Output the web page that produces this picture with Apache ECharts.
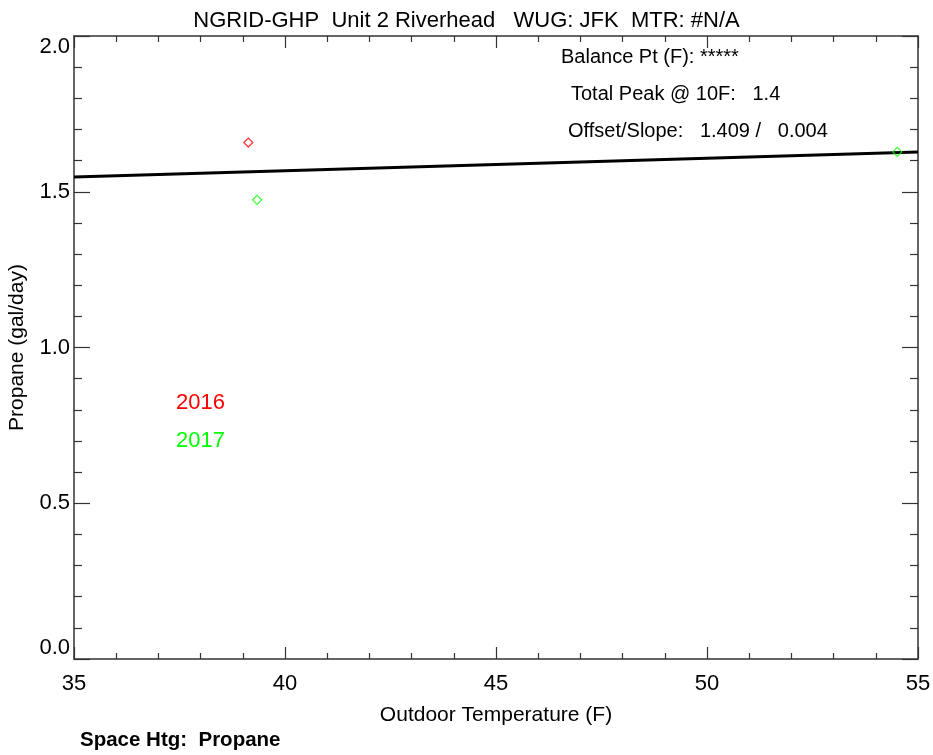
<!DOCTYPE html>
<html>
<head>
<meta charset="utf-8">
<script src="https://cdn.jsdelivr.net/npm/echarts@6/dist/echarts.min.js"></script>
<style>
html,body{margin:0;padding:0;background:#fff;}
#chart{width:933px;height:755px;}
</style>
</head>
<body>
<div id="chart"></div>
<script>
// ---- data ----
var seriesNames = ['2016', '2017'];
var temps2016 = [39.13];
var usage2016 = [1.658];
var temps2017 = [39.34, 54.51];
var usage2017 = [1.474, 1.628];
var fitTemps = [35, 55];
var fitUsage = [1.547, 1.628];
var xTicks = [35, 40, 45, 50, 55];
var yTicks = [0.0, 0.5, 1.0, 1.5, 2.0];
var titleText = 'NGRID-GHP  Unit 2 Riverhead   WUG: JFK  MTR: #N/A';
var notes = ['Balance Pt (F): *****', 'Total Peak @ 10F:   1.4', 'Offset/Slope:   1.409 /   0.004'];
var footer = 'Space Htg:  Propane';

function pairs(xs, ys) { return xs.map(function (x, i) { return [x, ys[i]]; }); }

var FONT = 'Liberation Sans, Arial, sans-serif';
var AX = '#333';
var chart = echarts.init(document.getElementById('chart'), null, {renderer: 'canvas'});

var xCommon = {
  type: 'value', min: xTicks[0], max: xTicks[xTicks.length - 1], interval: 5,
  splitLine: {show: false},
  axisLine: {show: true, onZero: false, lineStyle: {color: AX, width: 1.5}},
  axisTick: {show: true, inside: true, length: 12, lineStyle: {color: AX, width: 1.2}},
  minorTick: {show: true, splitNumber: 5, length: 6, lineStyle: {color: AX, width: 1.2}}
};
var yCommon = {
  type: 'value', min: yTicks[0], max: yTicks[yTicks.length - 1], interval: 0.5,
  splitLine: {show: false},
  axisLine: {show: true, onZero: false, lineStyle: {color: AX, width: 1.5}},
  axisTick: {show: true, inside: true, length: 16, lineStyle: {color: AX, width: 1.2}},
  minorTick: {show: true, splitNumber: 5, length: 8, lineStyle: {color: AX, width: 1.2}}
};

var option = {
  backgroundColor: '#fff',
  animation: false,
  title: {
    text: titleText, left: 'center', top: 5,
    textStyle: {fontFamily: FONT, fontSize: 22, fontWeight: 'normal', color: '#000'}
  },
  grid: {left: 74, right: 15, top: 36, bottom: 96, containLabel: false, outerBoundsMode: 'none'},
  xAxis: [
    Object.assign({}, xCommon, {
      position: 'bottom',
      name: 'Outdoor Temperature (F)', nameLocation: 'middle', nameGap: 46,
      nameTextStyle: {fontFamily: FONT, fontSize: 21, color: '#000'},
      axisLabel: {show: true, margin: 14, fontFamily: FONT, fontSize: 22, color: '#000',
        formatter: function (v) { return String(v); }}
    }),
    Object.assign({}, xCommon, {position: 'top', axisLabel: {show: false}})
  ],
  yAxis: [
    Object.assign({}, yCommon, {
      position: 'left',
      name: 'Propane (gal/day)', nameLocation: 'middle', nameGap: 46,
      nameTextStyle: {fontFamily: FONT, fontSize: 21, color: '#000'},
      axisLabel: {show: true, margin: 4, fontFamily: FONT, fontSize: 22, color: '#000',
        verticalAlignMinLabel: 'bottom', verticalAlignMaxLabel: 'top',
        formatter: function (v) { return v.toFixed(1); }}
    }),
    Object.assign({}, yCommon, {position: 'right', axisLabel: {show: false}})
  ],
  series: [
    {
      name: 'fit', type: 'line', xAxisIndex: 0, yAxisIndex: 0,
      data: pairs(fitTemps, fitUsage), showSymbol: false, symbol: 'none',
      lineStyle: {color: '#000', width: 3}, z: 3
    },
    {
      name: seriesNames[0], type: 'scatter', xAxisIndex: 0, yAxisIndex: 0,
      data: pairs(temps2016, usage2016), symbol: 'diamond', symbolSize: [9, 9],
      itemStyle: {color: 'transparent', borderColor: '#ff0000', borderWidth: 1.2}, z: 4
    },
    {
      name: seriesNames[1], type: 'scatter', xAxisIndex: 0, yAxisIndex: 0,
      data: pairs(temps2017, usage2017), symbol: 'diamond', symbolSize: [9, 9],
      itemStyle: {color: 'transparent', borderColor: '#00ff00', borderWidth: 1.2}, z: 4
    }
  ],
  graphic: [
    {type: 'text', left: 176, top: 392, style: {text: seriesNames[0], fill: '#ff0000', font: '22px ' + FONT}},
    {type: 'text', left: 176, top: 430, style: {text: seriesNames[1], fill: '#00ff00', font: '22px ' + FONT}},
    {type: 'text', left: 561, top: 47, style: {text: notes[0], fill: '#000', font: '20px ' + FONT}},
    {type: 'text', left: 571, top: 84, style: {text: notes[1], fill: '#000', font: '20px ' + FONT}},
    {type: 'text', left: 568, top: 121, style: {text: notes[2], fill: '#000', font: '20px ' + FONT}},
    {type: 'text', left: 80, top: 730, style: {text: footer, fill: '#000', font: 'bold 20.5px ' + FONT}}
  ]
};
chart.setOption(option);
</script>
</body>
</html>
